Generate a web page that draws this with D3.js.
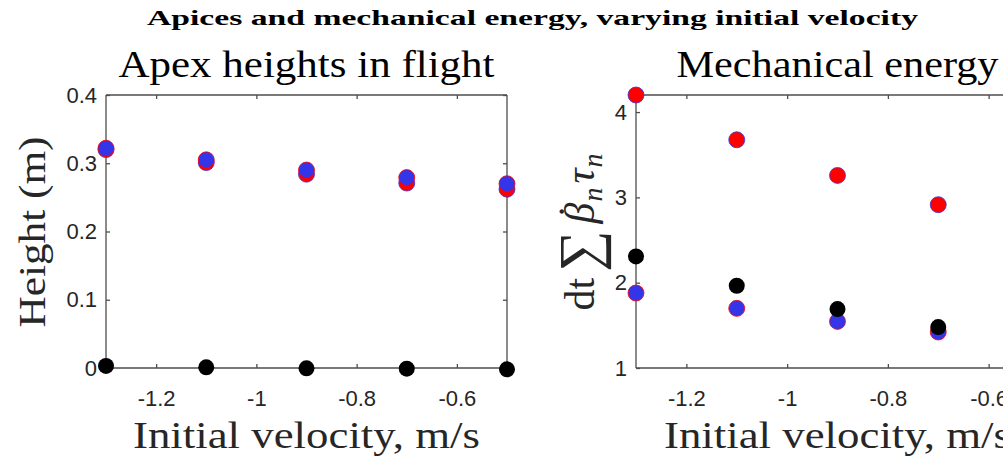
<!DOCTYPE html>
<html>
<head>
<meta charset="utf-8">
<script src="https://cdn.jsdelivr.net/npm/d3@7"></script>
<style>
  html, body { margin: 0; padding: 0; background: #fff; overflow: hidden; }
  svg { display: block; }
</style>
</head>
<body>
<svg id="fig" width="1003" height="458"></svg>
<script>
// Initial velocities (m/s) used in the sweep
const velocities = [-1.3, -1.1, -0.9, -0.7, -0.5];

// Apex heights in flight (m)
const apexRed   = [0.320, 0.301, 0.284, 0.271, 0.262];
const apexBlue  = [0.322, 0.305, 0.290, 0.279, 0.270];
const apexBlack = [0.003, 0.001, -0.0005, -0.001, -0.002];

// Mechanical energy, dt * sum(beta_dot_n * tau_n)
const energyVelocities = [-1.3, -1.1, -0.9, -0.7];
const energyRed   = [4.20, 3.675, 3.257, 2.914];
const energyBlack = [2.308, 1.964, 1.691, 1.480];
const energyBlue  = [1.879, 1.699, 1.546, 1.422];

// Axis ticks
const xTicks = [-1.2, -1.0, -0.8, -0.6];
const xTickLabels = ["-1.2", "-1", "-0.8", "-0.6"];
const apexTicks = [0, 0.1, 0.2, 0.3, 0.4];
const apexTickLabels = ["0", "0.1", "0.2", "0.3", "0.4"];
const energyTicks = [1, 2, 3, 4];
const energyTickLabels = ["1", "2", "3", "4"];

const RED = "#ff0000", BLUE = "#3434e8", BLACK = "#000000";
const AXIS = "#4d4d4d", TICKTXT = "#262626";
const SERIF = "'Liberation Serif', 'DejaVu Serif', serif";
const SANS = "'Liberation Sans', Arial, sans-serif";

const svg = d3.select("#fig");

// Figure title
svg.append("text")
  .attr("x", 147).attr("y", 25)
  .attr("font-family", SERIF).attr("font-weight", "bold")
  .attr("font-size", 22)
  .attr("textLength", 771).attr("lengthAdjust", "spacingAndGlyphs")
  .attr("fill", "#000")
  .text("Apices and mechanical energy, varying initial velocity");

function drawPanel(opt) {
  const x = d3.scaleLinear().domain([-1.3, -0.5]).range([opt.left, opt.right]);
  const y = d3.scaleLinear().domain(opt.yDomain).range([opt.bottom, opt.top]);
  const g = svg.append("g");
  const tickLen = 4;

  // bottom axis with inward ticks, labels below
  const bottom = g.append("g").attr("transform", `translate(0,${opt.bottom})`)
    .call(d3.axisBottom(x).tickValues(xTicks).tickSize(-tickLen).tickPadding(22)
      .tickFormat((d, i) => xTickLabels[i]));
  // top axis, ticks only
  const top = g.append("g").attr("transform", `translate(0,${opt.top})`)
    .call(d3.axisTop(x).tickValues(xTicks).tickSize(-tickLen).tickFormat(""));
  // left axis with labels
  const left = g.append("g").attr("transform", `translate(${opt.left},0)`)
    .call(d3.axisLeft(y).tickValues(opt.yTicks).tickSize(-tickLen).tickPadding(9)
      .tickFormat((d, i) => opt.yTickLabels[i]));
  // right axis, ticks only
  const right = g.append("g").attr("transform", `translate(${opt.right},0)`)
    .call(d3.axisRight(y).tickValues(opt.yTicks).tickSize(-tickLen).tickFormat(""));

  [bottom, top, left, right].forEach(a => {
    a.select(".domain").attr("stroke", AXIS).attr("stroke-width", 1.3);
    a.selectAll(".tick line").attr("stroke", AXIS).attr("stroke-width", 1.3);
    a.selectAll(".tick text").attr("fill", TICKTXT)
      .attr("font-family", SANS).attr("font-size", 22);
  });
  // domain paths drawn without outer ticks
  bottom.select(".domain").attr("d", `M${opt.left},0H${opt.right}`);
  top.select(".domain").attr("d", `M${opt.left},0H${opt.right}`);
  left.select(".domain").attr("d", `M0,${opt.bottom}V${opt.top}`);
  right.select(".domain").attr("d", `M0,${opt.bottom}V${opt.top}`);
  bottom.selectAll(".tick text").attr("dy", "0.35em").attr("y", 30);

  // title
  g.append("text")
    .attr("x", (opt.left + opt.right) / 2).attr("y", 77)
    .attr("text-anchor", "middle")
    .attr("font-family", SERIF).attr("font-size", 38)
    .attr("textLength", opt.titleLen).attr("lengthAdjust", "spacingAndGlyphs")
    .attr("fill", "#000").text(opt.title);

  // x label
  g.append("text")
    .attr("x", (opt.left + opt.right) / 2).attr("y", 448)
    .attr("text-anchor", "middle")
    .attr("font-family", SERIF).attr("font-size", 38)
    .attr("textLength", 347).attr("lengthAdjust", "spacingAndGlyphs")
    .attr("fill", "#262626").text("Initial velocity, m/s");

  // markers, in plotting order
  opt.series.forEach(s => {
    g.append("g").selectAll("circle")
      .data(s.values.map((v, i) => [opt.xs[i], v]))
      .join("circle")
      .attr("cx", d => x(d[0])).attr("cy", d => y(d[1]))
      .attr("r", 8)
      .attr("fill", s.color)
      .attr("stroke", s.rim || "none")
      .attr("stroke-width", s.rim ? 0.8 : 0);
  });
  return { x, y, g };
}

const apex = drawPanel({
  left: 106, right: 507, top: 95, bottom: 368,
  yDomain: [0, 0.4], yTicks: apexTicks, yTickLabels: apexTickLabels,
  title: "Apex heights in flight", titleLen: 376,
  xs: velocities,
  series: [
    { values: apexRed, color: RED, rim: BLUE },
    { values: apexBlue, color: BLUE, rim: RED },
    { values: apexBlack, color: BLACK }
  ]
});

// y label, left panel
svg.append("text")
  .attr("transform", "translate(45,232) rotate(-90)")
  .attr("text-anchor", "middle")
  .attr("font-family", SERIF).attr("font-size", 38)
  .attr("textLength", 191).attr("lengthAdjust", "spacingAndGlyphs")
  .attr("fill", "#262626").text("Height (m)");

const energy = drawPanel({
  left: 636, right: 1039, top: 95, bottom: 368,
  yDomain: [1, 4.2], yTicks: energyTicks, yTickLabels: energyTickLabels,
  title: "Mechanical energy", titleLen: 322,
  xs: energyVelocities,
  series: [
    { values: energyRed, color: RED, rim: BLUE },
    { values: energyBlue, color: BLUE, rim: RED },
    { values: energyBlack, color: BLACK }
  ]
});

// y label, right panel: dt Σ β̇_n τ_n
const ml = svg.append("text")
  .attr("transform", "translate(594,232) rotate(-90)")
  .attr("text-anchor", "middle")
  .attr("font-family", SERIF).attr("font-size", 42)
  .attr("fill", "#262626");
ml.append("tspan").text("dt");
ml.append("tspan").attr("font-size", 58).attr("dy", 5).attr("dx", 6).text("\u2211");
ml.append("tspan").attr("font-style", "italic").attr("dy", -5).attr("dx", 7).text("\u03B2");
ml.append("tspan").attr("dx", -16).attr("dy", -6).text("\u02D9");
ml.append("tspan").attr("font-style", "italic").attr("font-size", 28).attr("dx", 3).attr("dy", 14).text("n");
ml.append("tspan").attr("font-style", "italic").attr("dx", 4).attr("dy", -8).text("\u03C4");
ml.append("tspan").attr("font-style", "italic").attr("font-size", 28).attr("dx", 1).attr("dy", 8).text("n");
</script>
</body>
</html>
